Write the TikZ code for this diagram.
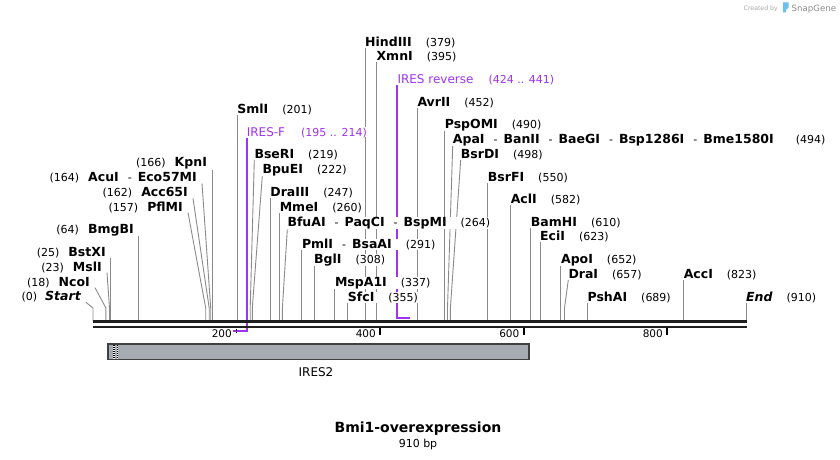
\documentclass[tikz,border=0pt]{standalone}
\usepackage{fontspec}
\setmainfont{DejaVu Sans}
\usepackage{tikz}
\usepackage{xcolor}
\usetikzlibrary{backgrounds}

\definecolor{primer}{HTML}{A033F0}
\definecolor{leader}{HTML}{8A8A8A}
\definecolor{featgray}{HTML}{A6ABB2}
\definecolor{logoblue}{HTML}{6CC0F0}
\newcommand{\enz}[1]{{\fontsize{12.5}{14}\selectfont\bfseries #1}}
\newcommand{\sitedash}{\hspace{9pt}-\hspace{6pt}}

\begin{document}
\begin{tikzpicture}[
  x=1pt, y=-1pt,
  every node/.style={inner sep=0pt, font=\fontsize{11}{13}\selectfont},
  rsite/.style={anchor=base west, fill=white},
  lsite/.style={anchor=base east, fill=white},
  lead/.style={draw=leader, line width=0.9pt},
  primerline/.style={draw=primer, line width=2pt},
  tickmark/.style={line width=2pt},
]
\useasboundingbox (0,0) rectangle (840,460);

% sites on the sequence
\coordinate (bend) at (0,308);
\coordinate (c0) at (93,321);
\coordinate (c18) at (105.9,321);
\coordinate (c23) at (109.5,321);
\coordinate (c25) at (110.9,321);
\coordinate (c64) at (138.9,321);
\coordinate (c157) at (205.7,321);
\coordinate (c162) at (209.2,321);
\coordinate (c164) at (210.7,321);
\coordinate (c166) at (212.1,321);
\coordinate (c201) at (237.2,321);
\coordinate (c219) at (250.2,321);
\coordinate (c222) at (252.3,321);
\coordinate (c247) at (270.2,321);
\coordinate (c260) at (279.6,321);
\coordinate (c264) at (282.4,321);
\coordinate (c291) at (301.8,321);
\coordinate (c308) at (314.0,321);
\coordinate (c337) at (334.8,321);
\coordinate (c355) at (347.7,321);
\coordinate (c379) at (365.0,321);
\coordinate (c395) at (376.4,321);
\coordinate (c452) at (417.3,321);
\coordinate (c490) at (444.6,321);
\coordinate (c494) at (447.5,321);
\coordinate (c498) at (450.4,321);
\coordinate (c550) at (487.7,321);
\coordinate (c582) at (510.6,321);
\coordinate (c610) at (530.7,321);
\coordinate (c623) at (540.0,321);
\coordinate (c652) at (560.9,321);
\coordinate (c657) at (564.5,321);
\coordinate (c689) at (587.4,321);
\coordinate (c823) at (683.6,321);
\coordinate (c910) at (746.0,321);
% primer ends
\coordinate (fp1) at (246.6,330.5);
\coordinate (fp2) at (232.9,330.5);
\coordinate (rp1) at (397.3,317.5);
\coordinate (rp2) at (409.5,317.5);

% labels left of their site
\node[lsite] (kpni) at (207.1,166.7) {(166)\hspace{9pt}\enz{KpnI}};
\node[lsite] (acui) at (197,181.7) {(164)\hspace{9pt}\enz{AcuI}\sitedash\enz{Eco57MI}};
\node[lsite] (acc65i) at (188,196.7) {(162)\hspace{9pt}\enz{Acc65I}};
\node[lsite] (pflmi) at (183,211) {(157)\hspace{9pt}\enz{PflMI}};
\node[lsite] (bmgbi) at (133.9,233.3) {(64)\hspace{9pt}\enz{BmgBI}};
\node[lsite] (bstxi) at (105.9,256) {(25)\hspace{9pt}\enz{BstXI}};
\node[lsite] (msli) at (102,271) {(23)\hspace{9pt}\enz{MslI}};
\node[lsite] (ncoi) at (90,286) {(18)\hspace{9pt}\enz{NcoI}};
\node[lsite] (startpt) at (81,300.7) {(0)\hspace{8pt}\enz{\itshape Start}};

% labels right of their site
\node[rsite] (smli) at (237.2,113.3) {\enz{SmlI}\hspace{14pt}(201)};
\node[rsite, text=primer] (iresf) at (246.6,136) {{\fontsize{12}{14}\selectfont IRES-F}\hspace{16pt}(195 .. 214)};
\node[rsite] (bseri) at (254.3,158.3) {\enz{BseRI}\hspace{14pt}(219)};
\node[rsite] (bpuei) at (262.3,173.3) {\enz{BpuEI}\hspace{14pt}(222)};
\node[rsite] (draiii) at (270.2,196.7) {\enz{DraIII}\hspace{14pt}(247)};
\node[rsite] (mmei) at (279.6,211.7) {\enz{MmeI}\hspace{14pt}(260)};
\node[rsite] (bfuai) at (287.3,226.7) {\enz{BfuAI}\sitedash\enz{PaqCI}\sitedash\enz{BspMI}\hspace{14pt}(264)};
\node[rsite] (pmli) at (301.8,248.3) {\enz{PmlI}\sitedash\enz{BsaAI}\hspace{14pt}(291)};
\node[rsite] (bgli) at (314,263.3) {\enz{BglI}\hspace{14pt}(308)};
\node[rsite] (mspai) at (334.8,286) {\enz{MspA1I}\hspace{14pt}(337)};
\node[rsite] (sfci) at (347.7,301.7) {\enz{SfcI}\hspace{14pt}(355)};
\node[rsite] (hindiii) at (365,46.7) {\enz{HindIII}\hspace{14pt}(379)};
\node[rsite] (xmni) at (376.4,60.7) {\enz{XmnI}\hspace{14pt}(395)};
\node[rsite, text=primer] (iresr) at (397.3,83.3) {{\fontsize{12}{14}\selectfont IRES reverse}\hspace{15pt}(424 .. 441)};
\node[rsite] (avrii) at (417.3,106) {\enz{AvrII}\hspace{14pt}(452)};
\node[rsite] (pspomi) at (444.6,128.3) {\enz{PspOMI}\hspace{14pt}(490)};
\node[rsite] (apai) at (452.7,143.3) {\enz{ApaI}\sitedash\enz{BanII}\sitedash\enz{BaeGI}\sitedash\enz{Bsp1286I}\sitedash\enz{Bme1580I}\hspace{22pt}(494)};
\node[rsite] (bsrdi) at (460.7,158.3) {\enz{BsrDI}\hspace{14pt}(498)};
\node[rsite] (bsrfi) at (487.7,181.7) {\enz{BsrFI}\hspace{14pt}(550)};
\node[rsite] (acli) at (510.6,203.3) {\enz{AclI}\hspace{14pt}(582)};
\node[rsite] (bamhi) at (530.7,226.7) {\enz{BamHI}\hspace{14pt}(610)};
\node[rsite] (ecii) at (540,240) {\enz{EciI}\hspace{14pt}(623)};
\node[rsite] (apoi) at (560.9,263.3) {\enz{ApoI}\hspace{14pt}(652)};
\node[rsite] (drai) at (568.3,278.3) {\enz{DraI}\hspace{14pt}(657)};
\node[rsite] (pshai) at (587.4,301) {\enz{PshAI}\hspace{14pt}(689)};
\node[rsite] (acci) at (683.6,278.3) {\enz{AccI}\hspace{14pt}(823)};
\node[rsite] (endpt) at (746,301) {\enz{\itshape End}\hspace{14pt}(910)};

% leaders and primers behind the labels
\begin{scope}[on background layer]
\draw[lead] ([xshift=5pt]startpt.south east) -- (c0 |- bend) -- (c0);
\draw[lead] ([xshift=5pt]ncoi.south east) -- (c18 |- bend) -- (c18);
\draw[lead] ([xshift=5pt]msli.south east) -- (c23 |- bend) -- (c23);
\draw[lead] ([xshift=5pt]bstxi.south east) -- (c25);
\draw[lead] ([xshift=5pt]bmgbi.south east) -- (c64);
\draw[lead] ([xshift=5pt]pflmi.south east) -- (c157 |- bend) -- (c157);
\draw[lead] ([xshift=5pt]acc65i.south east) -- (c162 |- bend) -- (c162);
\draw[lead] ([xshift=5pt]acui.south east) -- (c164 |- bend) -- (c164);
\draw[lead] ([xshift=5pt]kpni.south east) -- (c166);
\draw[lead] (smli.south west) -- (c201);
\draw[lead] (bseri.south west) -- (c219 |- bend) -- (c219);
\draw[lead] (bpuei.south west) -- (c222 |- bend) -- (c222);
\draw[lead] (draiii.south west) -- (c247);
\draw[lead] (mmei.south west) -- (c260);
\draw[lead] (bfuai.south west) -- (c264 |- bend) -- (c264);
\draw[lead] (pmli.south west) -- (c291);
\draw[lead] (bgli.south west) -- (c308);
\draw[lead] (mspai.south west) -- (c337);
\draw[lead] (sfci.south west) -- (c355);
\draw[lead] (hindiii.south west) -- (c379);
\draw[lead] (xmni.south west) -- (c395);
\draw[lead] (avrii.south west) -- (c452);
\draw[lead] (pspomi.south west) -- (c490);
\draw[lead] (apai.south west) -- (c494 |- bend) -- (c494);
\draw[lead] (bsrdi.south west) -- (c498 |- bend) -- (c498);
\draw[lead] (bsrfi.south west) -- (c550);
\draw[lead] (acli.south west) -- (c582);
\draw[lead] (bamhi.south west) -- (c610);
\draw[lead] (ecii.south west) -- (c623);
\draw[lead] (apoi.south west) -- (c652);
\draw[lead] (drai.south west) -- (c657 |- bend) -- (c657);
\draw[lead] (pshai.south west) -- (c689);
\draw[lead] (acci.south west) -- (c823);
\draw[lead] (endpt.south west) -- (c910);
\draw[primerline] (iresf.south west) -- (fp1) -- (fp2);
\draw[primerline] (iresr.south west) -- (rp1) -- (rp2);
\end{scope}

% sequence
\draw[line width=3.2pt, draw=black!88] (93,321.7) -- (746.5,321.7);
\draw[line width=2.3pt, draw=black!88] (93,326.8) -- (746.5,326.8);
\draw[densely dotted, line width=1.5pt] (236.5,329) -- (236.5,334);
\draw[tickmark] (380,328) -- (380,335);
\draw[tickmark] (523.5,328) -- (523.5,335);
\draw[tickmark] (667.1,328) -- (667.1,335);
\node[anchor=base east, font=\fontsize{10.5}{12}\selectfont] (t200) at (232,337) {200};
\node[anchor=base east, font=\fontsize{10.5}{12}\selectfont] (t400) at (376,337) {400};
\node[anchor=base east, font=\fontsize{10.5}{12}\selectfont] (t600) at (519.5,337) {600};
\node[anchor=base east, font=\fontsize{10.5}{12}\selectfont] (t800) at (663,337) {800};

% IRES2 feature
\draw[draw=black!75, fill=featgray, line width=1.3pt] (108,344) rectangle (529,359.5);
\draw[white, line width=1.2pt] (114,344.8) -- (114,358.7);
\draw[black, line width=1.2pt, dash pattern=on 1pt off 1pt] (114,344.8) -- (114,358.7);
\draw[white, line width=1.2pt] (117.5,344.8) -- (117.5,358.7);
\draw[black, line width=1.2pt, dash pattern=on 1pt off 1pt] (117.5,344.8) -- (117.5,358.7);
\node[anchor=base, font=\fontsize{12}{14}\selectfont] (ires2) at (316,376.7) {IRES2};

% title
\node[anchor=base, font=\fontsize{14}{16}\selectfont\bfseries] (title) at (418,432.7) {Bmi1-overexpression};
\node[anchor=base] (length) at (418,447.3) {910 bp};

% corner mark
\node[anchor=base east, text=black!35, font=\fontsize{6.2}{7}\selectfont] (created) at (778,11) {Created by};
\fill[logoblue] (783,2.5) -- (788.5,2.5) -- (788.5,8) -- (786,9.5) -- (786,12.5) -- (783,12.5) -- cycle;
\node[anchor=base west, text=black!45, font=\fontsize{8.6}{10}\selectfont] (snapgene) at (791.5,11.5) {SnapGene};
\end{tikzpicture}
\end{document}
